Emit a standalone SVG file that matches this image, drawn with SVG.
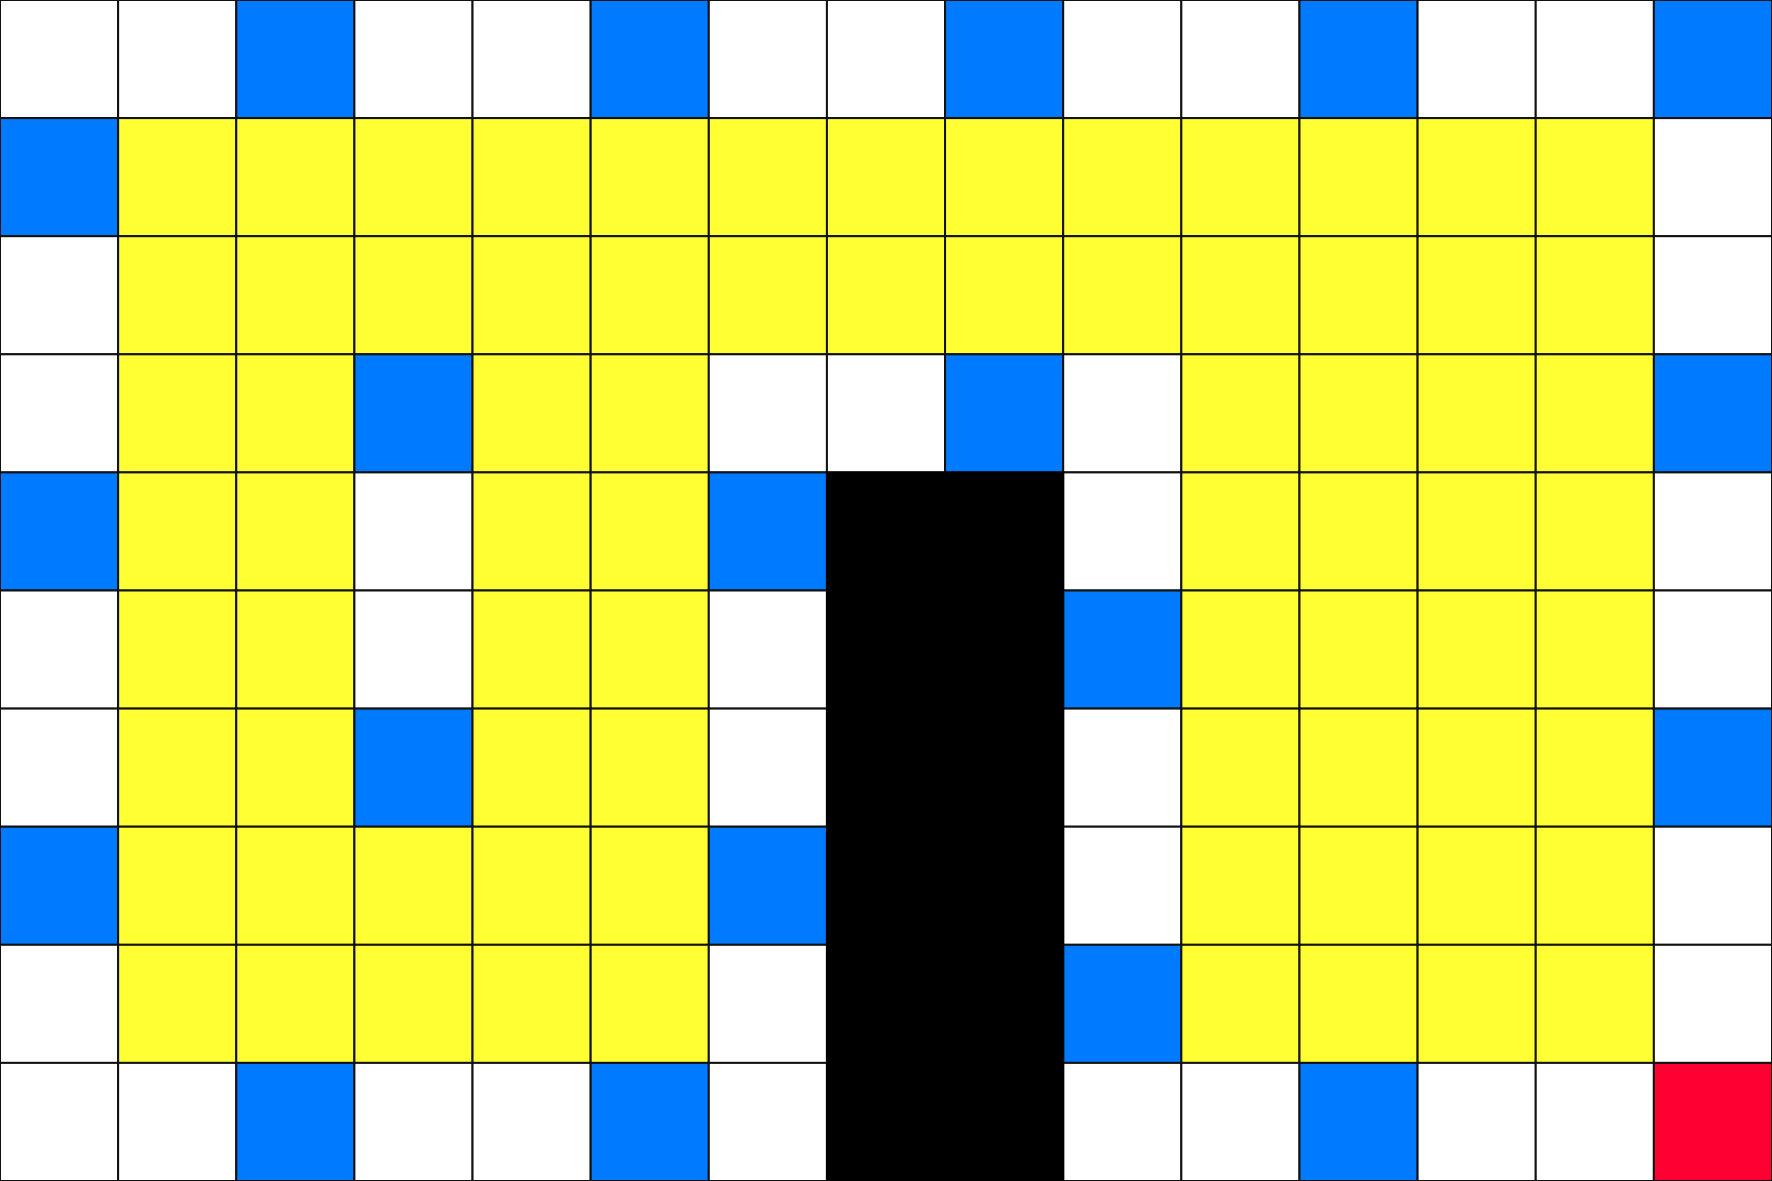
<svg xmlns="http://www.w3.org/2000/svg" width="1772" height="1181" viewBox="0 0 1772 1181">
<style>
rect{stroke:#111;stroke-width:2}
.w{fill:#ffffff}
.b{fill:#007bff}
.y{fill:#ffff33}
.r{fill:#ff0033}
.k{fill:#000000;stroke:#000}
</style>
<rect x="0" y="0" width="1772" height="1181" fill="#fff" stroke="none"/>
<g id="grid">
<!-- row 0 -->
<rect class="w" x="0" y="0" width="118.13" height="118.1"/>
<rect class="w" x="118.13" y="0" width="118.13" height="118.1"/>
<rect class="b" x="236.27" y="0" width="118.13" height="118.1"/>
<rect class="w" x="354.4" y="0" width="118.13" height="118.1"/>
<rect class="w" x="472.53" y="0" width="118.13" height="118.1"/>
<rect class="b" x="590.67" y="0" width="118.13" height="118.1"/>
<rect class="w" x="708.8" y="0" width="118.13" height="118.1"/>
<rect class="w" x="826.93" y="0" width="118.13" height="118.1"/>
<rect class="b" x="945.07" y="0" width="118.13" height="118.1"/>
<rect class="w" x="1063.2" y="0" width="118.13" height="118.1"/>
<rect class="w" x="1181.33" y="0" width="118.13" height="118.1"/>
<rect class="b" x="1299.47" y="0" width="118.13" height="118.1"/>
<rect class="w" x="1417.6" y="0" width="118.13" height="118.1"/>
<rect class="w" x="1535.73" y="0" width="118.13" height="118.1"/>
<rect class="b" x="1653.87" y="0" width="118.13" height="118.1"/>
<!-- row 1 -->
<rect class="b" x="0" y="118.1" width="118.13" height="118.1"/>
<rect class="y" x="118.13" y="118.1" width="118.13" height="118.1"/>
<rect class="y" x="236.27" y="118.1" width="118.13" height="118.1"/>
<rect class="y" x="354.4" y="118.1" width="118.13" height="118.1"/>
<rect class="y" x="472.53" y="118.1" width="118.13" height="118.1"/>
<rect class="y" x="590.67" y="118.1" width="118.13" height="118.1"/>
<rect class="y" x="708.8" y="118.1" width="118.13" height="118.1"/>
<rect class="y" x="826.93" y="118.1" width="118.13" height="118.1"/>
<rect class="y" x="945.07" y="118.1" width="118.13" height="118.1"/>
<rect class="y" x="1063.2" y="118.1" width="118.13" height="118.1"/>
<rect class="y" x="1181.33" y="118.1" width="118.13" height="118.1"/>
<rect class="y" x="1299.47" y="118.1" width="118.13" height="118.1"/>
<rect class="y" x="1417.6" y="118.1" width="118.13" height="118.1"/>
<rect class="y" x="1535.73" y="118.1" width="118.13" height="118.1"/>
<rect class="w" x="1653.87" y="118.1" width="118.13" height="118.1"/>
<!-- row 2 -->
<rect class="w" x="0" y="236.2" width="118.13" height="118.1"/>
<rect class="y" x="118.13" y="236.2" width="118.13" height="118.1"/>
<rect class="y" x="236.27" y="236.2" width="118.13" height="118.1"/>
<rect class="y" x="354.4" y="236.2" width="118.13" height="118.1"/>
<rect class="y" x="472.53" y="236.2" width="118.13" height="118.1"/>
<rect class="y" x="590.67" y="236.2" width="118.13" height="118.1"/>
<rect class="y" x="708.8" y="236.2" width="118.13" height="118.1"/>
<rect class="y" x="826.93" y="236.2" width="118.13" height="118.1"/>
<rect class="y" x="945.07" y="236.2" width="118.13" height="118.1"/>
<rect class="y" x="1063.2" y="236.2" width="118.13" height="118.1"/>
<rect class="y" x="1181.33" y="236.2" width="118.13" height="118.1"/>
<rect class="y" x="1299.47" y="236.2" width="118.13" height="118.1"/>
<rect class="y" x="1417.6" y="236.2" width="118.13" height="118.1"/>
<rect class="y" x="1535.73" y="236.2" width="118.13" height="118.1"/>
<rect class="w" x="1653.87" y="236.2" width="118.13" height="118.1"/>
<!-- row 3 -->
<rect class="w" x="0" y="354.3" width="118.13" height="118.1"/>
<rect class="y" x="118.13" y="354.3" width="118.13" height="118.1"/>
<rect class="y" x="236.27" y="354.3" width="118.13" height="118.1"/>
<rect class="b" x="354.4" y="354.3" width="118.13" height="118.1"/>
<rect class="y" x="472.53" y="354.3" width="118.13" height="118.1"/>
<rect class="y" x="590.67" y="354.3" width="118.13" height="118.1"/>
<rect class="w" x="708.8" y="354.3" width="118.13" height="118.1"/>
<rect class="w" x="826.93" y="354.3" width="118.13" height="118.1"/>
<rect class="b" x="945.07" y="354.3" width="118.13" height="118.1"/>
<rect class="w" x="1063.2" y="354.3" width="118.13" height="118.1"/>
<rect class="y" x="1181.33" y="354.3" width="118.13" height="118.1"/>
<rect class="y" x="1299.47" y="354.3" width="118.13" height="118.1"/>
<rect class="y" x="1417.6" y="354.3" width="118.13" height="118.1"/>
<rect class="y" x="1535.73" y="354.3" width="118.13" height="118.1"/>
<rect class="b" x="1653.87" y="354.3" width="118.13" height="118.1"/>
<!-- row 4 -->
<rect class="b" x="0" y="472.4" width="118.13" height="118.1"/>
<rect class="y" x="118.13" y="472.4" width="118.13" height="118.1"/>
<rect class="y" x="236.27" y="472.4" width="118.13" height="118.1"/>
<rect class="w" x="354.4" y="472.4" width="118.13" height="118.1"/>
<rect class="y" x="472.53" y="472.4" width="118.13" height="118.1"/>
<rect class="y" x="590.67" y="472.4" width="118.13" height="118.1"/>
<rect class="b" x="708.8" y="472.4" width="118.13" height="118.1"/>
<rect class="w" x="1063.2" y="472.4" width="118.13" height="118.1"/>
<rect class="y" x="1181.33" y="472.4" width="118.13" height="118.1"/>
<rect class="y" x="1299.47" y="472.4" width="118.13" height="118.1"/>
<rect class="y" x="1417.6" y="472.4" width="118.13" height="118.1"/>
<rect class="y" x="1535.73" y="472.4" width="118.13" height="118.1"/>
<rect class="w" x="1653.87" y="472.4" width="118.13" height="118.1"/>
<!-- row 5 -->
<rect class="w" x="0" y="590.5" width="118.13" height="118.1"/>
<rect class="y" x="118.13" y="590.5" width="118.13" height="118.1"/>
<rect class="y" x="236.27" y="590.5" width="118.13" height="118.1"/>
<rect class="w" x="354.4" y="590.5" width="118.13" height="118.1"/>
<rect class="y" x="472.53" y="590.5" width="118.13" height="118.1"/>
<rect class="y" x="590.67" y="590.5" width="118.13" height="118.1"/>
<rect class="w" x="708.8" y="590.5" width="118.13" height="118.1"/>
<rect class="b" x="1063.2" y="590.5" width="118.13" height="118.1"/>
<rect class="y" x="1181.33" y="590.5" width="118.13" height="118.1"/>
<rect class="y" x="1299.47" y="590.5" width="118.13" height="118.1"/>
<rect class="y" x="1417.6" y="590.5" width="118.13" height="118.1"/>
<rect class="y" x="1535.73" y="590.5" width="118.13" height="118.1"/>
<rect class="w" x="1653.87" y="590.5" width="118.13" height="118.1"/>
<!-- row 6 -->
<rect class="w" x="0" y="708.6" width="118.13" height="118.1"/>
<rect class="y" x="118.13" y="708.6" width="118.13" height="118.1"/>
<rect class="y" x="236.27" y="708.6" width="118.13" height="118.1"/>
<rect class="b" x="354.4" y="708.6" width="118.13" height="118.1"/>
<rect class="y" x="472.53" y="708.6" width="118.13" height="118.1"/>
<rect class="y" x="590.67" y="708.6" width="118.13" height="118.1"/>
<rect class="w" x="708.8" y="708.6" width="118.13" height="118.1"/>
<rect class="w" x="1063.2" y="708.6" width="118.13" height="118.1"/>
<rect class="y" x="1181.33" y="708.6" width="118.13" height="118.1"/>
<rect class="y" x="1299.47" y="708.6" width="118.13" height="118.1"/>
<rect class="y" x="1417.6" y="708.6" width="118.13" height="118.1"/>
<rect class="y" x="1535.73" y="708.6" width="118.13" height="118.1"/>
<rect class="b" x="1653.87" y="708.6" width="118.13" height="118.1"/>
<!-- row 7 -->
<rect class="b" x="0" y="826.7" width="118.13" height="118.1"/>
<rect class="y" x="118.13" y="826.7" width="118.13" height="118.1"/>
<rect class="y" x="236.27" y="826.7" width="118.13" height="118.1"/>
<rect class="y" x="354.4" y="826.7" width="118.13" height="118.1"/>
<rect class="y" x="472.53" y="826.7" width="118.13" height="118.1"/>
<rect class="y" x="590.67" y="826.7" width="118.13" height="118.1"/>
<rect class="b" x="708.8" y="826.7" width="118.13" height="118.1"/>
<rect class="w" x="1063.2" y="826.7" width="118.13" height="118.1"/>
<rect class="y" x="1181.33" y="826.7" width="118.13" height="118.1"/>
<rect class="y" x="1299.47" y="826.7" width="118.13" height="118.1"/>
<rect class="y" x="1417.6" y="826.7" width="118.13" height="118.1"/>
<rect class="y" x="1535.73" y="826.7" width="118.13" height="118.1"/>
<rect class="w" x="1653.87" y="826.7" width="118.13" height="118.1"/>
<!-- row 8 -->
<rect class="w" x="0" y="944.8" width="118.13" height="118.1"/>
<rect class="y" x="118.13" y="944.8" width="118.13" height="118.1"/>
<rect class="y" x="236.27" y="944.8" width="118.13" height="118.1"/>
<rect class="y" x="354.4" y="944.8" width="118.13" height="118.1"/>
<rect class="y" x="472.53" y="944.8" width="118.13" height="118.1"/>
<rect class="y" x="590.67" y="944.8" width="118.13" height="118.1"/>
<rect class="w" x="708.8" y="944.8" width="118.13" height="118.1"/>
<rect class="b" x="1063.2" y="944.8" width="118.13" height="118.1"/>
<rect class="y" x="1181.33" y="944.8" width="118.13" height="118.1"/>
<rect class="y" x="1299.47" y="944.8" width="118.13" height="118.1"/>
<rect class="y" x="1417.6" y="944.8" width="118.13" height="118.1"/>
<rect class="y" x="1535.73" y="944.8" width="118.13" height="118.1"/>
<rect class="w" x="1653.87" y="944.8" width="118.13" height="118.1"/>
<!-- row 9 -->
<rect class="w" x="0" y="1062.9" width="118.13" height="118.1"/>
<rect class="w" x="118.13" y="1062.9" width="118.13" height="118.1"/>
<rect class="b" x="236.27" y="1062.9" width="118.13" height="118.1"/>
<rect class="w" x="354.4" y="1062.9" width="118.13" height="118.1"/>
<rect class="w" x="472.53" y="1062.9" width="118.13" height="118.1"/>
<rect class="b" x="590.67" y="1062.9" width="118.13" height="118.1"/>
<rect class="w" x="708.8" y="1062.9" width="118.13" height="118.1"/>
<rect class="w" x="1063.2" y="1062.9" width="118.13" height="118.1"/>
<rect class="w" x="1181.33" y="1062.9" width="118.13" height="118.1"/>
<rect class="b" x="1299.47" y="1062.9" width="118.13" height="118.1"/>
<rect class="w" x="1417.6" y="1062.9" width="118.13" height="118.1"/>
<rect class="w" x="1535.73" y="1062.9" width="118.13" height="118.1"/>
<rect class="r" x="1653.87" y="1062.9" width="118.13" height="118.1"/>
</g>
<g id="obstacle">
<rect class="k" x="826.93" y="472.4" width="236.27" height="708.6"/>
</g>
</svg>
